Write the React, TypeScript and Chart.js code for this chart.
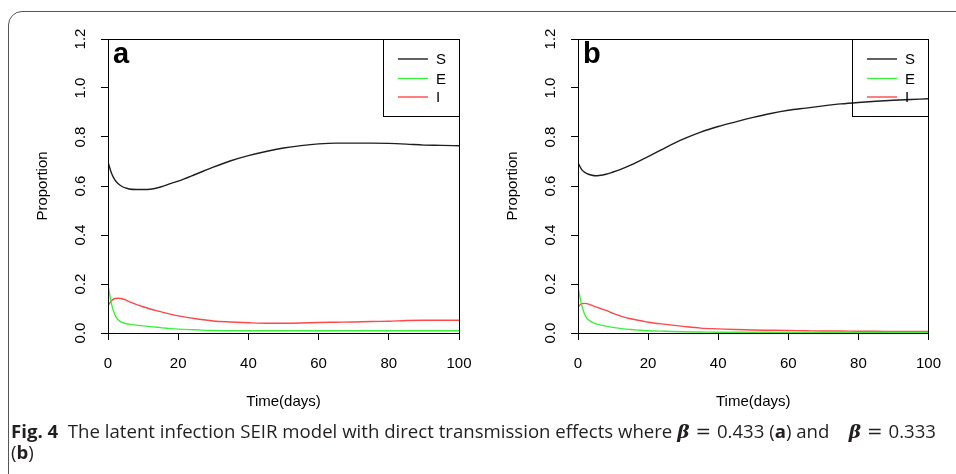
import React, { useEffect, useRef } from "react";
import { Chart, registerables } from "chart.js";
Chart.register(...registerables);

// ---- data ----
const times = [0, 1, 2, 3, 4, 5, 6, 8, 10, 12, 15, 18, 20, 25, 30, 35, 40, 45, 50, 55, 60, 65, 70, 75, 80, 85, 90, 95, 100];
const seriesNames = ["S", "E", "I"];
const seriesColors = ["#1e1e1e", "#3ef03e", "#ff4848"];

const aS = [0.697, 0.652, 0.624, 0.608, 0.598, 0.592, 0.588, 0.586, 0.586, 0.587, 0.596, 0.611, 0.62, 0.648, 0.677, 0.703, 0.724, 0.741, 0.755, 0.765, 0.772, 0.775, 0.775, 0.775, 0.774, 0.771, 0.767, 0.766, 0.764];
const aE = [0.196, 0.118, 0.073, 0.052, 0.043, 0.039, 0.036, 0.032, 0.029, 0.026, 0.022, 0.018, 0.016, 0.013, 0.01, 0.009, 0.009, 0.009, 0.009, 0.009, 0.009, 0.009, 0.009, 0.009, 0.009, 0.009, 0.009, 0.009, 0.009];
const aI = [0.112, 0.132, 0.141, 0.142, 0.14, 0.135, 0.128, 0.117, 0.107, 0.098, 0.087, 0.076, 0.07, 0.058, 0.049, 0.045, 0.042, 0.04, 0.04, 0.041, 0.043, 0.044, 0.045, 0.047, 0.048, 0.051, 0.052, 0.052, 0.052];

const bS = [0.695, 0.668, 0.655, 0.648, 0.644, 0.642, 0.643, 0.648, 0.657, 0.667, 0.685, 0.706, 0.72, 0.757, 0.791, 0.82, 0.843, 0.862, 0.88, 0.896, 0.909, 0.918, 0.927, 0.935, 0.941, 0.946, 0.95, 0.953, 0.956];
const bE = [0.186, 0.118, 0.073, 0.054, 0.044, 0.038, 0.034, 0.028, 0.023, 0.019, 0.014, 0.011, 0.009, 0.007, 0.005, 0.004, 0.003, 0.003, 0.003, 0.003, 0.002, 0.002, 0.002, 0.002, 0.002, 0.002, 0.002, 0.002, 0.002];
const bI = [0.105, 0.12, 0.121, 0.118, 0.113, 0.107, 0.102, 0.092, 0.08, 0.07, 0.058, 0.05, 0.044, 0.035, 0.027, 0.02, 0.017, 0.014, 0.012, 0.011, 0.01, 0.009, 0.008, 0.008, 0.007, 0.007, 0.006, 0.006, 0.006];

const xTickValues = [0, 20, 40, 60, 80, 100];
const xTickLabels = ["0", "20", "40", "60", "80", "100"];
const yTickValues = [0, 0.2, 0.4, 0.6, 0.8, 1.0, 1.2];
const yTickLabels = ["0.0", "0.2", "0.4", "0.6", "0.8", "1.0", "1.2"];

const xTitle = "Time(days)";
const yTitle = "Proportion";

const FONT = '"Liberation Sans", Arial, sans-serif';

const framePlugin = {
  id: "frame",
  afterDatasetsDraw(chart: any, _args: any, opts: any) {
    const { ctx, chartArea: ca } = chart;
    ctx.save();
    ctx.strokeStyle = "#000";
    ctx.lineWidth = 1;
    const L = Math.round(ca.left), T = Math.round(ca.top), R = Math.round(ca.right), B = Math.round(ca.bottom);
    ctx.strokeRect(L + 0.5, T + 0.5, R - L, B - T);
    // legend box
    const w = 76, h = 77;
    const lx = R - w, ly = T;
    ctx.strokeStyle = "#000";
    ctx.strokeRect(lx + 0.5, ly + 0.5, w, h);
    const rows = [20, 39.5, 58];
    chart.data.datasets.forEach((ds: any, i: number) => {
      const y = ly + rows[i];
      ctx.strokeStyle = ds.borderColor;
      ctx.lineWidth = 1.4;
      ctx.beginPath();
      ctx.moveTo(lx + 15, y);
      ctx.lineTo(lx + 45, y);
      ctx.stroke();
      ctx.fillStyle = "#000";
      ctx.font = "15px " + FONT;
      ctx.textBaseline = "middle";
      ctx.textAlign = "left";
      ctx.fillText(ds.label, lx + 53, y + 1);
    });
    ctx.font = "bold 29px " + FONT;
    ctx.textBaseline = "alphabetic";
    ctx.textAlign = "left";
    ctx.fillStyle = "#000";
    ctx.fillText(opts.letter, L + 5, T + 24);
    ctx.restore();
  },
};

function Panel({ letter, S, E, I, left, width }: any) {
  const ref = useRef<HTMLCanvasElement>(null);
  useEffect(() => {
    const values = [S, E, I];
    const chart = new Chart(ref.current!, {
      type: "line",
      data: {
        datasets: seriesNames.map((name, i) => ({
          label: name,
          data: times.map((t, j) => ({ x: t, y: values[i][j] })),
          borderColor: seriesColors[i],
          borderWidth: 1.4,
          pointRadius: 0,
          fill: false,
          cubicInterpolationMode: "monotone",
          tension: 0.4,
        })),
      },
      options: {
        responsive: false,
        animation: false,
        layout: { padding: { left: 24, right: width - 459, top: 39, bottom: 9 } },
        plugins: {
          legend: { display: false },
          tooltip: { enabled: false },
          frame: { letter },
        } as any,
        scales: {
          x: {
            type: "linear",
            min: 0,
            max: 100,
            afterBuildTicks: (s: any) => {
              s.ticks = xTickValues.map((v) => ({ value: v }));
            },
            afterFit: (s: any) => {
              s.height = 78;
            },
            ticks: {
              callback: (_v: any, i: number) => xTickLabels[i],
              color: "#000",
              font: { family: FONT, size: 15 },
              padding: 15,
              maxRotation: 0,
              minRotation: 0,
            },
            grid: { drawOnChartArea: false, drawTicks: true, tickLength: 7, color: "#000", lineWidth: 1 },
            border: { display: true, color: "#000", width: 1 },
            title: { display: true, text: xTitle, color: "#000", font: { family: FONT, size: 15 }, padding: 0 },
          },
          y: {
            type: "linear",
            min: 0,
            max: 1.2,
            afterBuildTicks: (s: any) => {
              s.ticks = yTickValues.map((v) => ({ value: v }));
            },
            afterFit: (s: any) => {
              s.width = 84;
            },
            ticks: {
              callback: (_v: any, i: number) => yTickLabels[i],
              color: "#000",
              font: { family: FONT, size: 15 },
              padding: 10,
              minRotation: 90,
              maxRotation: 90,
              crossAlign: "center",
            },
            grid: { drawOnChartArea: false, drawTicks: true, tickLength: 7, color: "#000", lineWidth: 1 },
            border: { display: true, color: "#000", width: 1 },
            title: { display: true, text: yTitle, color: "#000", font: { family: FONT, size: 15 }, padding: { top: 10, bottom: 0 } },
          },
        },
      },
      plugins: [framePlugin],
    } as any);
    return () => chart.destroy();
  }, []);
  return (
    <canvas
      ref={ref}
      width={width}
      height={420}
      style={{ position: "absolute", left, top: 0, width, height: 420 }}
    />
  );
}

export default function App() {
  const capRef = useRef<HTMLDivElement>(null);
  useEffect(() => {
    const el = capRef.current;
    if (!el) return;
    const line = el.querySelector("#cap1") as HTMLElement;
    const w = line.getBoundingClientRect().width;
    const k = 925 / w;
    el.style.transform = `scaleX(${k})`;
  }, []);
  const beta = (
    <span style={{ fontFamily: '"DejaVu Serif", serif', fontWeight: "bold", fontStyle: "italic" }}>β</span>
  );
  const eq = <span style={{ fontFamily: '"DejaVu Serif", serif' }}> = </span>;
  return (
    <div style={{ position: "absolute", left: 0, top: 0, width: 956, height: 474, overflow: "hidden", background: "#fff" }}>
      <div
        style={{
          position: "absolute",
          left: 8,
          top: 11,
          width: 1200,
          height: 700,
          border: "1px solid #555",
          borderRadius: 14,
          boxSizing: "border-box",
        }}
      />
      <Panel letter="a" S={aS} E={aE} I={aI} left={0} width={494} />
      <Panel letter="b" S={bS} E={bE} I={bI} left={470} width={486} />
      <div
        ref={capRef}
        style={{
          position: "absolute",
          left: 11,
          top: 421,
          fontFamily: '"Open Sans", sans-serif',
          fontSize: 18,
          lineHeight: "20px",
          color: "#231f20",
          whiteSpace: "nowrap",
          transformOrigin: "left top",
        }}
      >
        <span id="cap1">
          <b>Fig. 4</b>&nbsp; The latent infection SEIR model with direct transmission effects where {beta}
          {eq}0.433 (<b>a</b>) and &nbsp;&nbsp; {beta}
          {eq}0.333
        </span>
        <br />
        <span>
          (<b>b</b>)
        </span>
      </div>
    </div>
  );
}
